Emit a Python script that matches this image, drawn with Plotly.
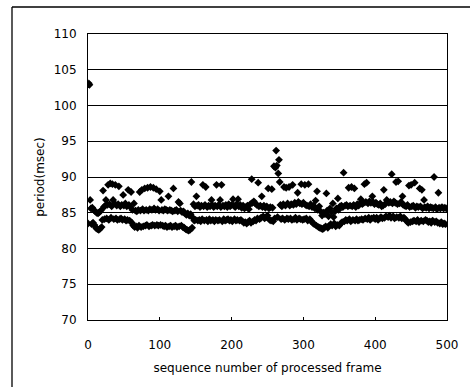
import plotly.graph_objects as go

# period (msec) of each processed frame (frames 0..499)
period_ms = [
    83.5, 103.1, 102.9, 86.8, 85.6, 83.4, 85.7, 83.6, 85.4, 83.3, 85.2, 82.9, 85.0, 82.7, 84.9, 82.6, 85.1, 82.8, 85.3, 83.0,
    84.0, 88.1, 85.8, 84.1, 86.0, 86.8, 84.2, 86.1, 88.9, 84.0, 86.2, 89.1, 84.3, 85.9, 89.0, 86.8, 84.1, 86.3, 88.9, 84.2,
    86.0, 84.0, 86.2, 88.7, 84.1, 85.9, 84.2, 86.1, 84.0, 87.5, 86.0, 84.1, 86.3, 83.9, 85.9, 84.0, 88.2, 86.1, 83.9, 85.8,
    87.9, 83.6, 85.4, 83.2, 86.3, 83.0, 85.3, 83.1, 85.2, 82.9, 85.4, 83.2, 87.9, 85.3, 83.0, 88.2, 85.5, 83.1, 85.3, 88.4,
    83.2, 85.4, 83.3, 88.5, 85.3, 83.1, 85.5, 88.6, 83.2, 85.4, 83.3, 88.5, 85.6, 83.2, 85.4, 88.3, 83.3, 85.5, 83.2, 85.3,
    88.0, 83.3, 86.8, 85.4, 83.2, 85.3, 83.1, 85.5, 83.2, 85.4, 83.0, 85.3, 87.3, 83.1, 85.4, 83.2, 85.3, 83.0, 85.2, 88.4,
    83.1, 85.3, 83.2, 85.4, 83.0, 85.2, 86.5, 83.1, 86.3, 85.3, 83.2, 85.1, 83.0, 85.2, 82.9, 84.9, 82.7, 84.7, 82.6, 84.9,
    82.5, 84.6, 82.6, 84.8, 89.3, 82.9, 84.3, 86.2, 83.9, 85.9, 84.0, 87.3, 86.0, 83.9, 86.1, 84.0, 85.8, 83.8, 86.0, 84.1,
    88.9, 85.9, 83.9, 86.1, 88.6, 84.0, 85.8, 83.8, 86.0, 84.1, 85.9, 83.9, 86.8, 86.1, 84.0, 85.8, 83.8, 86.0, 84.0, 88.9,
    85.9, 83.9, 86.1, 84.0, 86.8, 85.8, 88.9, 83.8, 86.0, 84.1, 85.9, 83.9, 86.1, 84.0, 85.8, 84.1, 86.2, 83.9, 85.9, 84.0,
    86.1, 83.8, 86.9, 86.0, 84.1, 85.8, 83.9, 86.2, 84.0, 86.9, 85.9, 83.9, 86.1, 84.0, 85.7, 83.8, 86.0, 83.6, 85.6, 83.7,
    85.8, 83.5, 86.0, 83.7, 85.5, 83.9, 86.2, 83.6, 89.7, 86.4, 83.8, 86.6, 84.0, 86.3, 83.9, 86.1, 84.2, 89.2, 85.9, 84.1,
    86.0, 84.3, 87.3, 85.8, 84.5, 86.0, 84.2, 85.7, 84.4, 85.9, 84.6, 88.4, 85.6, 84.0, 85.8, 83.9, 88.3, 85.7, 83.8, 91.5,
    84.2, 91.3, 93.7, 91.6, 84.4, 90.5, 92.4, 89.3, 86.1, 84.1, 85.9, 84.2, 86.2, 88.6, 84.0, 86.0, 88.5, 84.2, 86.3, 84.1,
    88.6, 86.0, 84.2, 86.2, 84.0, 88.9, 86.1, 84.1, 86.4, 84.3, 86.2, 84.0, 87.8, 86.5, 84.2, 86.3, 84.1, 89.0, 86.2, 84.0,
    86.4, 84.1, 88.9, 86.1, 84.2, 86.0, 83.9, 89.0, 85.9, 84.1, 86.2, 83.8, 85.8, 83.6, 86.0, 83.4, 85.6, 86.7, 83.2, 88.0,
    85.4, 83.0, 85.9, 82.9, 85.2, 82.8, 84.6, 82.7, 85.0, 82.9, 84.8, 83.1, 87.7, 85.3, 82.9, 84.5, 83.2, 85.6, 83.4, 85.1,
    83.2, 86.3, 84.4, 83.5, 85.2, 83.1, 85.6, 83.3, 87.0, 85.4, 83.2, 85.9, 83.5, 86.0, 83.7, 85.8, 90.6, 83.8, 86.0, 84.0,
    86.1, 83.9, 85.9, 88.5, 84.1, 86.0, 83.8, 88.6, 85.9, 84.0, 86.1, 88.4, 83.9, 85.8, 84.1, 86.2, 83.9, 86.0, 84.0, 86.3,
    86.9, 84.1, 86.2, 84.0, 86.4, 89.0, 84.2, 86.5, 89.2, 84.1, 86.3, 84.3, 86.6, 84.0, 86.4, 84.2, 87.3, 86.5, 84.3, 86.2,
    84.1, 86.4, 84.3, 86.2, 84.0, 86.1, 84.2, 86.3, 84.4, 85.9, 84.2, 86.0, 88.2, 84.3, 86.2, 84.5, 86.8, 86.6, 84.4, 86.4,
    84.6, 86.5, 84.3, 90.4, 86.3, 84.5, 86.6, 84.2, 86.4, 89.3, 84.4, 86.2, 89.4, 84.3, 86.3, 84.5, 86.5, 84.2, 87.3, 86.1,
    84.3, 86.0, 84.1, 85.9, 83.8, 86.1, 83.6, 88.8, 85.8, 83.7, 88.9, 85.9, 83.8, 86.0, 83.9, 89.2, 85.7, 83.8, 85.9, 84.0,
    85.8, 83.7, 88.4, 85.9, 83.9, 88.2, 85.6, 83.8, 86.8, 85.8, 84.0, 85.7, 83.9, 85.9, 83.7, 85.6, 83.8, 85.8, 83.6, 85.7,
    83.9, 85.6, 90.0, 83.7, 85.8, 83.8, 85.5, 83.6, 87.8, 85.7, 83.5, 85.6, 83.7, 85.8, 83.4, 85.6, 83.5, 85.7, 83.4, 85.6,
]
frame_no = list(range(len(period_ms)))

x_ticks = [0, 100, 200, 300, 400, 500]
y_ticks = [70, 75, 80, 85, 90, 95, 100, 105, 110]

FONT = "DejaVu Sans"

fig = go.Figure()
fig.add_trace(go.Scatter(
    x=frame_no, y=period_ms, mode="markers",
    marker=dict(symbol="diamond", size=6, color="black", line=dict(width=0)),
    showlegend=False,
))

L, R, T, B = 88, 23, 34, 67
W, H = 470, 387
pw, ph = W - L - R, H - T - B

def px_x(p):
    return (p - L) / pw

def px_y(p):
    return (H - B - p) / ph

# outer chart frame (left and top edges visible)
fig.add_shape(type="line", xref="paper", yref="paper",
              x0=px_x(12), x1=px_x(12), y0=px_y(7), y1=px_y(390),
              line=dict(color="black", width=1.3))
fig.add_shape(type="line", xref="paper", yref="paper",
              x0=px_x(12), x1=px_x(472), y0=px_y(7), y1=px_y(7),
              line=dict(color="black", width=1.3))

fig.update_layout(
    width=W, height=H,
    margin=dict(l=L, r=R, t=T, b=B),
    paper_bgcolor="white", plot_bgcolor="white",
    font=dict(family=FONT, size=12, color="black"),
    xaxis=dict(
        range=[0, 500], tickvals=x_ticks, ticktext=[str(v) for v in x_ticks],
        showgrid=False, zeroline=False,
        showline=True, linecolor="black", linewidth=1, mirror=True,
        ticks="inside", ticklen=3, tickcolor="black",
        ticklabelstandoff=14,
        title=dict(text="sequence number of processed frame", standoff=12,
                   font=dict(family=FONT, size=12)),
    ),
    yaxis=dict(
        range=[70, 110], tickvals=y_ticks, ticktext=[str(v) for v in y_ticks],
        showgrid=True, gridcolor="black", gridwidth=1, zeroline=False,
        showline=True, linecolor="black", linewidth=1, mirror=True,
        ticks="", ticklabelstandoff=8,
        title=dict(text="period(msec)", standoff=6,
                   font=dict(family=FONT, size=12)),
    ),
)

fig.write_html("out.html")
